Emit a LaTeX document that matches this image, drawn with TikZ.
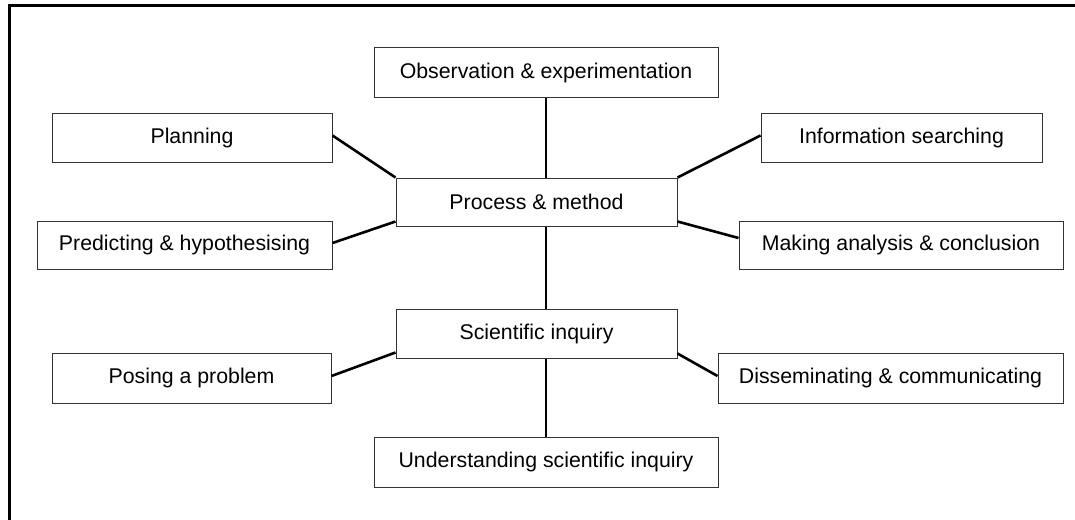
\documentclass[tikz,border=0pt]{standalone}
\usepackage{fontspec}
\setmainfont{Liberation Sans}
\begin{document}
\begin{tikzpicture}[x=1pt,y=-1pt,
  box/.style={draw=black!80,line width=1pt,inner sep=0pt,font=\fontsize{21.3}{24}\selectfont,fill=white},
  link/.style={line width=2.6pt,black}]
\useasboundingbox (0,0) rectangle (1075,519);
\fill[white] (0,0) rectangle (1075,519);
\draw[line width=3pt] (9.5,530) -- (9.5,6) -- (1085,6);
\node[box,minimum width=344pt,minimum height=49pt] (obs) at (546,72.5) {Observation \& experimentation};
\node[box,minimum width=280pt,minimum height=49pt] (plan) at (192,137.5) {Planning};
\node[box,minimum width=281pt,minimum height=49pt] (info) at (901.5,137.5) {Information searching};
\node[box,minimum width=281pt,minimum height=48pt] (proc) at (536.5,202) {Process \& method};
\node[box,minimum width=295pt,minimum height=48pt] (pred) at (184.5,245) {Predicting \& hypothesising};
\node[box,minimum width=324pt,minimum height=48pt] (make) at (901,245) {Making analysis \& conclusion};
\node[box,minimum width=281pt,minimum height=49pt] (sci) at (536.5,333.5) {Scientific inquiry};
\node[box,minimum width=279pt,minimum height=50pt] (pose) at (191.5,378) {Posing a problem};
\node[box,minimum width=345pt,minimum height=50pt] (diss) at (890.5,378) {Disseminating \& communicating};
\node[box,minimum width=344pt,minimum height=50pt] (und) at (546,462) {Understanding scientific inquiry};
\draw[link] (obs.south) -- (obs.south |- proc.north);
\draw[link] (obs.south |- proc.south) -- (obs.south |- sci.north);
\draw[link] (und.north |- sci.south) -- (und.north);
\draw[link] ([yshift=2pt]plan.east) -- (proc.north west);
\draw[link] ([yshift=2pt]pred.east) -- ([yshift=5pt]proc.south west);
\draw[link] (proc.north east) -- ([yshift=2pt]info.west);
\draw[link] ([yshift=5pt]proc.south east) -- ([yshift=7pt]make.west);
\draw[link] ([yshift=2pt]pose.east) -- ([yshift=6pt]sci.south west);
\draw[link] ([yshift=5pt]sci.south east) -- ([yshift=2pt]diss.west);
\end{tikzpicture}
\end{document}
